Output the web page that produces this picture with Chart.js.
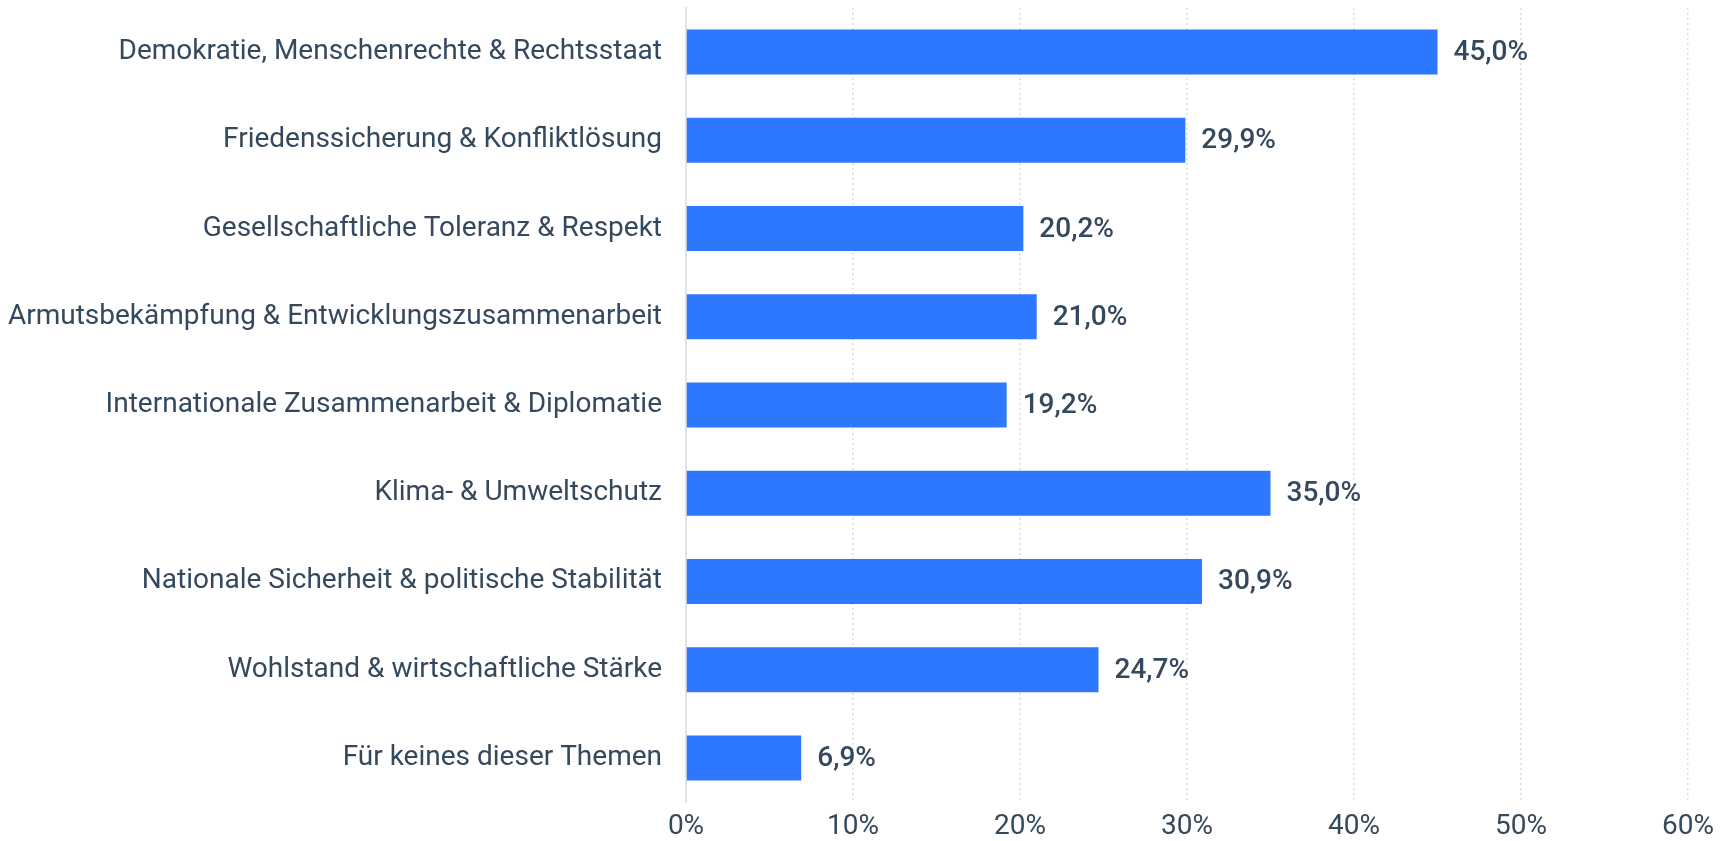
<!DOCTYPE html>
<html>
<head>
<meta charset="utf-8">
<script src="https://cdn.jsdelivr.net/npm/chart.js@4/dist/chart.umd.min.js"></script>
<style>
  html, body { margin: 0; padding: 0; background: #fff; }
  #wrap { width: 1731px; height: 841px; position: relative; }
</style>
</head>
<body>
<div id="wrap"><canvas id="chart"></canvas></div>
<script>
// Themen (Kategorien) und Anteile in %
const categories = [
  'Demokratie, Menschenrechte & Rechtsstaat',
  'Friedenssicherung & Konfliktlösung',
  'Gesellschaftliche Toleranz & Respekt',
  'Armutsbekämpfung & Entwicklungszusammenarbeit',
  'Internationale Zusammenarbeit & Diplomatie',
  'Klima- & Umweltschutz',
  'Nationale Sicherheit & politische Stabilität',
  'Wohlstand & wirtschaftliche Stärke',
  'Für keines dieser Themen'
];
const values = [45.0, 29.9, 20.2, 21.0, 19.2, 35.0, 30.9, 24.7, 6.9];
const xTicks = [0, 10, 20, 30, 40, 50, 60];

const TEXT = '#34495e';
const BAR = '#2d78ff';

function pct(v) { return v.toFixed(1).replace('.', ',') + '%'; }

// Werte rechts neben den Balken
const valueLabels = {
  id: 'valueLabels',
  afterDatasetsDraw(chart) {
    const ctx = chart.ctx;
    const meta = chart.getDatasetMeta(0);
    ctx.save();
    ctx.font = '500 28px Roboto';
    ctx.fillStyle = TEXT;
    ctx.textAlign = 'left';
    ctx.textBaseline = 'middle';
    meta.data.forEach((bar, i) => {
      ctx.fillText(pct(values[i]), bar.x + 16, bar.y + 1);
    });
    ctx.restore();
  }
};

new Chart(document.getElementById('chart'), {
  type: 'bar',
  data: {
    labels: categories,
    datasets: [{
      data: values,
      backgroundColor: BAR,
      borderWidth: 0,
      barPercentage: 0.51,
      categoryPercentage: 1
    }]
  },
  plugins: [valueLabels],
  options: {
    indexAxis: 'y',
    responsive: true,
    maintainAspectRatio: false,
    animation: false,
    layout: { padding: { top: 8, right: 43, left: 0, bottom: 0 } },
    plugins: { legend: { display: false }, tooltip: { enabled: false } },
    scales: {
      x: {
        min: 0,
        max: 60,
        afterBuildTicks: s => { s.ticks = xTicks.map(v => ({ value: v })); },
        afterFit: s => { s.height = 39; },
        grid: { color: '#dddddd', lineWidth: 1.5, drawTicks: false },
        border: { display: false, dash: [2, 3] },
        ticks: {
          padding: 8,
          color: TEXT,
          font: { family: 'Roboto', size: 28 },
          callback: v => v + '%'
        }
      },
      y: {
        afterFit: s => { s.width = 686; s.paddingTop = 0; s.paddingBottom = 0; },
        grid: { display: false, drawTicks: false },
        border: { display: true, color: '#e3e3e3', width: 2 },
        ticks: {
          padding: 24,
          color: TEXT,
          font: { family: 'Roboto', size: 28 }
        }
      }
    }
  }
});
</script>
</body>
</html>
